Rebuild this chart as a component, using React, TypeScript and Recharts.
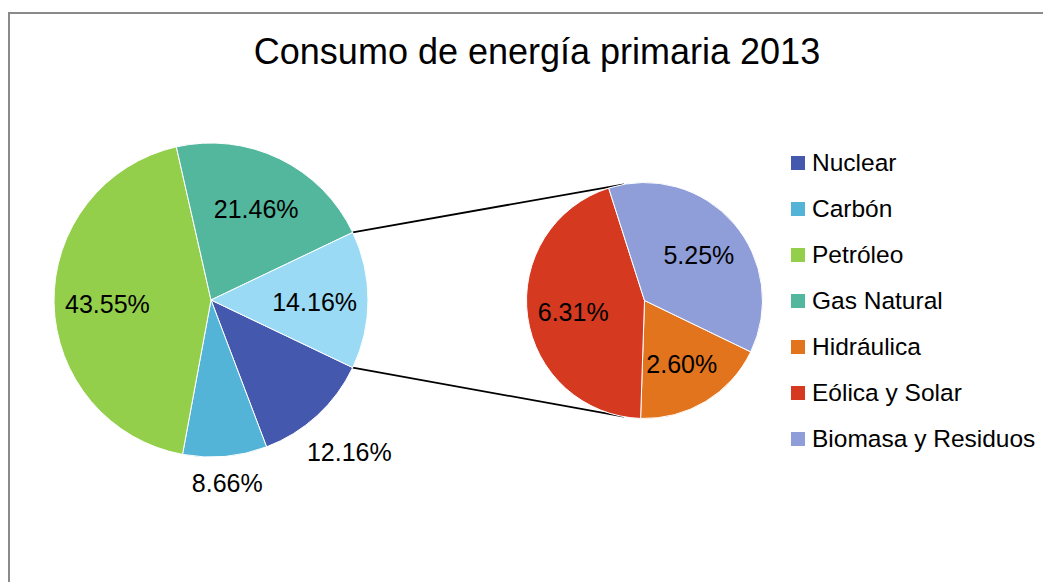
import React from 'react';
import { PieChart, Pie, Cell, Legend, Customized } from 'recharts';

// main pie (the last slice is the sum of the secondary pie)
const mainNames = ['Nuclear', 'Carbón', 'Petróleo', 'Gas Natural'];
const mainValues = [12.16, 8.66, 43.55, 21.46];
const mainColors = ['#4459ae', '#53b4d8', '#93cf4b', '#53b79d'];

// secondary pie
const otherNames = ['Hidráulica', 'Eólica y Solar', 'Biomasa y Residuos'];
const otherValues = [2.6, 6.31, 5.25];
const otherColors = ['#e2741e', '#d5391f', '#8f9ed8'];

const groupName = 'Otras';
const groupColor = '#9adaf5';

const FONT = '"Liberation Sans", Arial, sans-serif';
const RAD = Math.PI / 180;

const MAIN = { cx: 201, cy: 286, r: 157 };
const SECOND = { cx: 634.5, cy: 286.5, r: 118 };
const SECOND_START = -25.8;
const SECOND_JOIN = 100;

const otherSum = otherValues.reduce((s, v) => s + v, 0);
const mainTotal = mainValues.reduce((s, v) => s + v, 0) + otherSum;
const halfGroup = (otherSum / mainTotal) * 180;

const mainData = [
  ...mainNames.map((name, i) => ({ name, value: mainValues[i], color: mainColors[i] })),
  { name: groupName, value: Number(otherSum.toFixed(2)), color: groupColor },
];
const secondData = otherNames.map((name, i) => ({ name, value: otherValues[i], color: otherColors[i] }));

const legendNames = [...mainNames, ...otherNames];
const legendColors = [...mainColors, ...otherColors];

const makeLabel = (insideFactor: number, outsideBelow: number) => (props: any) => {
  const { cx, cy, midAngle, outerRadius, value, percent } = props;
  const text = `${Number(value).toFixed(2)}%`;
  const c = Math.cos(-midAngle * RAD);
  const s = Math.sin(-midAngle * RAD);
  let r = outerRadius * insideFactor;
  if (percent < outsideBelow) {
    // push label box just outside the rim
    const halfW = text.length * 7;
    const halfH = 12;
    r = outerRadius + 10 + Math.abs(c) * halfW + Math.abs(s) * halfH;
  }
  return (
    <text
      x={cx + r * c}
      y={cy + r * s + 2}
      textAnchor="middle"
      dominantBaseline="central"
      fontFamily={FONT}
      fontSize={25}
      fill="#000"
    >
      {text}
    </text>
  );
};

const Decorations = () => {
  const a = halfGroup * RAD;
  const b = SECOND_JOIN * RAD;
  return (
    <g>
      <text x={527} y={50} textAnchor="middle" fontFamily={FONT} fontSize={36} fill="#000">
        Consumo de energía primaria 2013
      </text>
      <line
        x1={MAIN.cx + MAIN.r * Math.cos(a)}
        y1={MAIN.cy - MAIN.r * Math.sin(a)}
        x2={SECOND.cx + SECOND.r * Math.cos(b)}
        y2={SECOND.cy - SECOND.r * Math.sin(b)}
        stroke="#000"
        strokeWidth={1.8}
      />
      <line
        x1={MAIN.cx + MAIN.r * Math.cos(a)}
        y1={MAIN.cy + MAIN.r * Math.sin(a)}
        x2={SECOND.cx + SECOND.r * Math.cos(b)}
        y2={SECOND.cy + SECOND.r * Math.sin(b)}
        stroke="#000"
        strokeWidth={1.8}
      />
    </g>
  );
};

const renderLegend = () => (
  <div style={{ fontFamily: FONT, fontSize: 24.5, color: '#000' }}>
    {legendNames.map((name, i) => (
      <div key={name} style={{ display: 'flex', alignItems: 'center', height: 46 }}>
        <span style={{ width: 14, height: 14, background: legendColors[i], marginRight: 7, flexShrink: 0 }} />
        <span>{name}</span>
      </div>
    ))}
  </div>
);

export default function App() {
  return (
    <div
      style={{
        marginTop: 4,
        width: 1041,
        height: 568,
        borderTop: '2px solid #8a8a8a',
        borderLeft: '2px solid #8a8a8a',
        background: '#fff',
      }}
    >
      <PieChart width={1041} height={568} margin={{ top: 0, right: 0, bottom: 0, left: 0 }}>
        <Pie
          data={mainData}
          dataKey="value"
          nameKey="name"
          cx={MAIN.cx}
          cy={MAIN.cy}
          outerRadius={MAIN.r}
          startAngle={-halfGroup}
          endAngle={-halfGroup - 360}
          stroke="#ffffff"
          strokeWidth={1}
          label={makeLabel(0.66, 0.13)}
          labelLine={false}
          isAnimationActive={false}
        >
          {mainData.map((d) => (
            <Cell key={d.name} fill={d.color} />
          ))}
        </Pie>
        <Pie
          data={secondData}
          dataKey="value"
          nameKey="name"
          cx={SECOND.cx}
          cy={SECOND.cy}
          outerRadius={SECOND.r}
          startAngle={SECOND_START}
          endAngle={SECOND_START - 360}
          stroke="#ffffff"
          strokeWidth={1}
          label={makeLabel(0.61, 0)}
          labelLine={false}
          isAnimationActive={false}
        >
          {secondData.map((d) => (
            <Cell key={d.name} fill={d.color} />
          ))}
        </Pie>
        <Customized component={Decorations} />
        <Legend content={renderLegend} wrapperStyle={{ left: 781, top: 126, width: 262 }} />
      </PieChart>
    </div>
  );
}
